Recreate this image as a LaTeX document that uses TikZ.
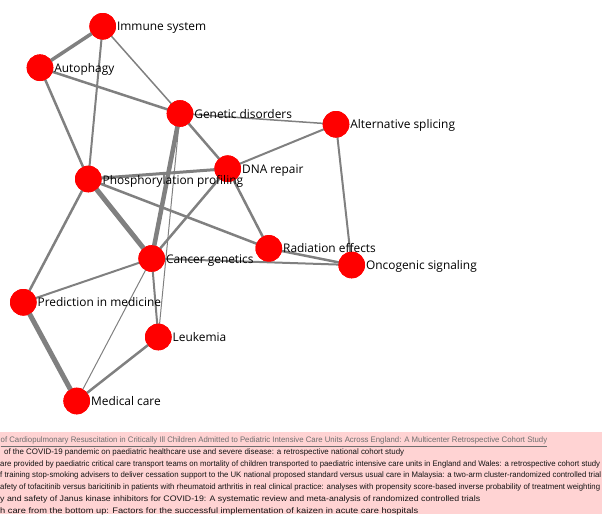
\documentclass[tikz,border=0pt]{standalone}
\usepackage{fontspec}
\setmainfont{Open Sans}
\newfontfamily\reffont{Liberation Sans}
\usepackage{graphicx}
\definecolor{edgegray}{HTML}{808080}
\definecolor{panelpink}{HTML}{FFD3D3}
\definecolor{linkgray}{HTML}{6E6E6E}
\definecolor{reftext}{HTML}{141414}
\begin{document}
\begin{tikzpicture}[x=1pt,y=-1pt,
  vnode/.style={circle,fill=red,draw=none,minimum size=26.6pt,inner sep=0pt},
  lbl/.style={anchor=base west,inner sep=0pt,text=black,font=\fontsize{11.9}{14}\selectfont},
  edge/.style={draw=edgegray,line width=#1},
  btxt/.style={anchor=base west,inner sep=0pt,font=\reffont\fontsize{8}{9}\selectfont,text=reftext}]
\useasboundingbox (0,0) rectangle (602,514);
% nodes
\node[vnode] (imm) at (102.7,26.3) {};
\node[vnode] (aut) at (40,67.7) {};
\node[vnode] (gen) at (180,113.5) {};
\node[vnode] (alt) at (336,124.3) {};
\node[vnode] (dna) at (227.7,168.7) {};
\node[vnode] (pho) at (88.3,179) {};
\node[vnode] (rad) at (268.8,248.4) {};
\node[vnode] (onc) at (351.7,265) {};
\node[vnode] (can) at (151.7,258.5) {};
\node[vnode] (pre) at (23.3,302.3) {};
\node[vnode] (leu) at (158.3,337) {};
\node[vnode] (med) at (76.7,401) {};
% edges
\draw[edge=3.5pt] (imm.center) -- (aut.center);
\draw[edge=1.5pt] (imm.center) -- (gen.center);
\draw[edge=2pt] (imm.center) -- (pho.center);
\draw[edge=2.5pt] (aut.center) -- (gen.center);
\draw[edge=2.5pt] (aut.center) -- (pho.center);
\draw[edge=1.5pt] (gen.center) -- (alt.center);
\draw[edge=2.5pt] (gen.center) -- (dna.center);
\draw[edge=4.5pt] (gen.center) -- (can.center);
\draw[edge=1pt] (gen.center) -- (leu.center);
\draw[edge=3pt] (pho.center) -- (dna.center);
\draw[edge=5pt] (pho.center) -- (can.center);
\draw[edge=2.5pt] (pho.center) -- (rad.center);
\draw[edge=2.5pt] (pho.center) -- (pre.center);
\draw[edge=2pt] (dna.center) -- (alt.center);
\draw[edge=2.5pt] (dna.center) -- (can.center);
\draw[edge=2.5pt] (dna.center) -- (rad.center);
\draw[edge=2pt] (alt.center) -- (onc.center);
\draw[edge=2.5pt] (rad.center) -- (onc.center);
\draw[edge=2pt] (can.center) -- (onc.center);
\draw[edge=2pt] (can.center) -- (pre.center);
\draw[edge=2pt] (can.center) -- (leu.center);
\draw[edge=1pt] (can.center) -- (med.center);
\draw[edge=5pt] (pre.center) -- (med.center);
\draw[edge=2.5pt] (leu.center) -- (med.center);
% redraw nodes on top of edges
\foreach \n in {imm,aut,gen,alt,dna,pho,rad,onc,can,pre,leu,med}
  \fill[red] (\n) circle (13.3pt);
% labels
\node[lbl] (imm-l) at ([shift={(14.2,4.5)}]imm.center) {Immune system};
\node[lbl] (aut-l) at ([shift={(14.2,4.5)}]aut.center) {Autophagy};
\node[lbl] (gen-l) at ([shift={(14.2,4.5)}]gen.center) {Genetic disorders};
\node[lbl] (alt-l) at ([shift={(14.2,4.5)}]alt.center) {Alternative splicing};
\node[lbl] (dna-l) at ([shift={(14.2,4.5)}]dna.center) {DNA repair};
\node[lbl] (pho-l) at ([shift={(14.2,5)}]pho.center) {Phosphorylation profiling};
\node[lbl] (rad-l) at ([shift={(14.2,4.5)}]rad.center) {Radiation effects};
\node[lbl] (onc-l) at ([shift={(14.2,4.5)}]onc.center) {Oncogenic signaling};
\node[lbl] (can-l) at ([shift={(14.2,5)}]can.center) {Cancer genetics};
\node[lbl] (pre-l) at ([shift={(14.2,4.5)}]pre.center) {Prediction in medicine};
\node[lbl] (leu-l) at ([shift={(14.2,4.5)}]leu.center) {Leukemia};
\node[lbl] (med-l) at ([shift={(14.2,4.5)}]med.center) {Medical care};
% bottom panel
\fill[panelpink] (0,432) rectangle (602,514);
\begin{scope}
\clip (0,432) rectangle (602,514);
\node[btxt,text=linkgray] (t1) at (0.5,442.8) {\resizebox{546.5pt}{\height}{\underline{of Cardiopulmonary Resuscitation in Critically Ill Children Admitted to Pediatric Intensive Care Units Across England: A Multicenter Retrospective Cohort Study}}};
\node[btxt] (t2) at (4,454.5) {\resizebox{400pt}{\height}{of the COVID-19 pandemic on paediatric healthcare use and severe disease: a retrospective national cohort study}};
\node[btxt] (t3) at (0,466.2) {\resizebox{600pt}{\height}{are provided by paediatric critical care transport teams on mortality of children transported to paediatric intensive care units in England and Wales: a retrospective cohort study}};
\node[btxt] (t4) at (0,477.9) {\resizebox{601pt}{\height}{f training stop-smoking advisers to deliver cessation support to the UK national proposed standard versus usual care in Malaysia: a two-arm cluster-randomized controlled trial}};
\node[btxt] (t5) at (0,489.6) {\resizebox{600pt}{\height}{afety of tofacitinib versus baricitinib in patients with rheumatoid arthritis in real clinical practice: analyses with propensity score-based inverse probability of treatment weighting}};
\node[btxt] (t6) at (0,501.3) {\resizebox{480pt}{\height}{y and safety of Janus kinase inhibitors for COVID-19: A systematic review and meta-analysis of randomized controlled trials}};
\node[btxt] (t7) at (0,513) {\resizebox{418pt}{\height}{h care from the bottom up: Factors for the successful implementation of kaizen in acute care hospitals}};
\end{scope}
\end{tikzpicture}
\end{document}
